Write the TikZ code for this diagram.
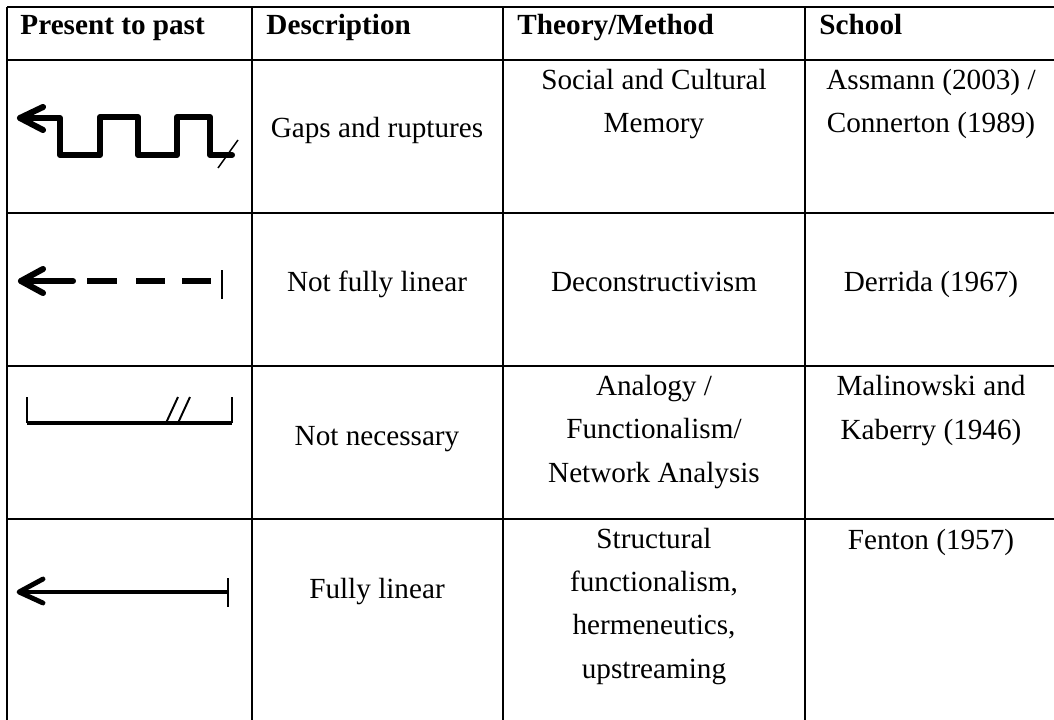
\documentclass[tikz,border=0pt]{standalone}
\usepackage{fontspec}
\setmainfont{Liberation Serif}

\begin{document}
\begin{tikzpicture}[x=0.411pt, y=-0.411pt]
\tikzstyle{grid} = [line width=0.7pt]
\tikzstyle{head} = [anchor=base west, inner sep=0pt, font=\fontsize{12}{17.7}\selectfont\bfseries]
\tikzstyle{cell} = [anchor=base, inner sep=0pt, align=center, font=\fontsize{12}{17.7}\selectfont]
\tikzstyle{heavy} = [line width=2.5pt, line cap=round, line join=round]
\tikzstyle{hair} = [line width=0.6pt]

\useasboundingbox (0,0) rectangle (1054,720);

% table rules
\foreach \y in {7,60,213,366,519} \draw[grid] (7,\y) -- (1054,\y);
\foreach \x in {7,252,503,805} \draw[grid] (\x,7) -- (\x,720);

% header
\node (hpast) [head] at (20,35) {Present to past};
\node (hdesc) [head] at (266,35) {Description};
\node (hmeth) [head] at (517,35) {Theory/Method};
\node (hschool) [head] at (819,35) {School};

% row 1 (multi-line cells sit on their last baseline)
\node (desc1) [cell] at (377,137) {Gaps and ruptures};
\node (meth1) [cell] at (654,133) {Social and Cultural\\Memory};
\node (school1) [cell] at (931,133) {Assmann (2003) /\\Connerton (1989)};

% row 2
\node (desc2) [cell] at (377,291) {Not fully linear};
\node (meth2) [cell] at (654,291) {Deconstructivism};
\node (school2) [cell] at (931,291) {Derrida (1967)};

% row 3
\node (desc3) [cell] at (377,445) {Not necessary};
\node (meth3) [cell] at (654,482) {Analogy /\\Functionalism/\\Network Analysis};
\node (school3) [cell] at (931,439) {Malinowski and\\Kaberry (1946)};

% row 4
\node (desc4) [cell] at (377,598) {Fully linear};
\node (meth4) [cell] at (654,678) {Structural\\functionalism,\\hermeneutics,\\upstreaming};
\node (school4) [cell] at (931,549) {Fenton (1957)};

% symbol: gaps and ruptures
\draw[heavy] (43,107) -- (20,118) -- (43,130);
\draw[heavy] (20,118) -- (60,118) -- (60,155) -- (100,155) -- (100,117) -- (138,117)
  -- (138,155) -- (177,155) -- (177,117) -- (210,117) -- (210,155) -- (232,155);
\draw[hair] (218,168) -- (238,140);

% symbol: not fully linear
\draw[heavy] (43,269) -- (21,281) -- (43,293);
\draw[heavy] (21,281) -- (73,281);
\foreach \a/\b in {87/117,136/165,182/211}
  \draw[line width=2.5pt] (\a,281) -- (\b,281);
\draw[hair] (222,270) -- (222,299);

% symbol: not necessary
\draw[hair] (27,397) -- (27,423);
\draw[line width=1.7pt] (27,423) -- (232,423);
\draw[hair] (232,397) -- (232,423);
\draw[line width=0.8pt] (166,423) -- (178,397);
\draw[line width=0.8pt] (178,423) -- (190,397);

% symbol: fully linear
\draw[heavy, line width=2pt] (43,579) -- (19,592) -- (43,603);
\draw[line width=2pt] (19,592) -- (228,592);
\draw[hair] (228,578) -- (228,607);
\end{tikzpicture}
\end{document}
